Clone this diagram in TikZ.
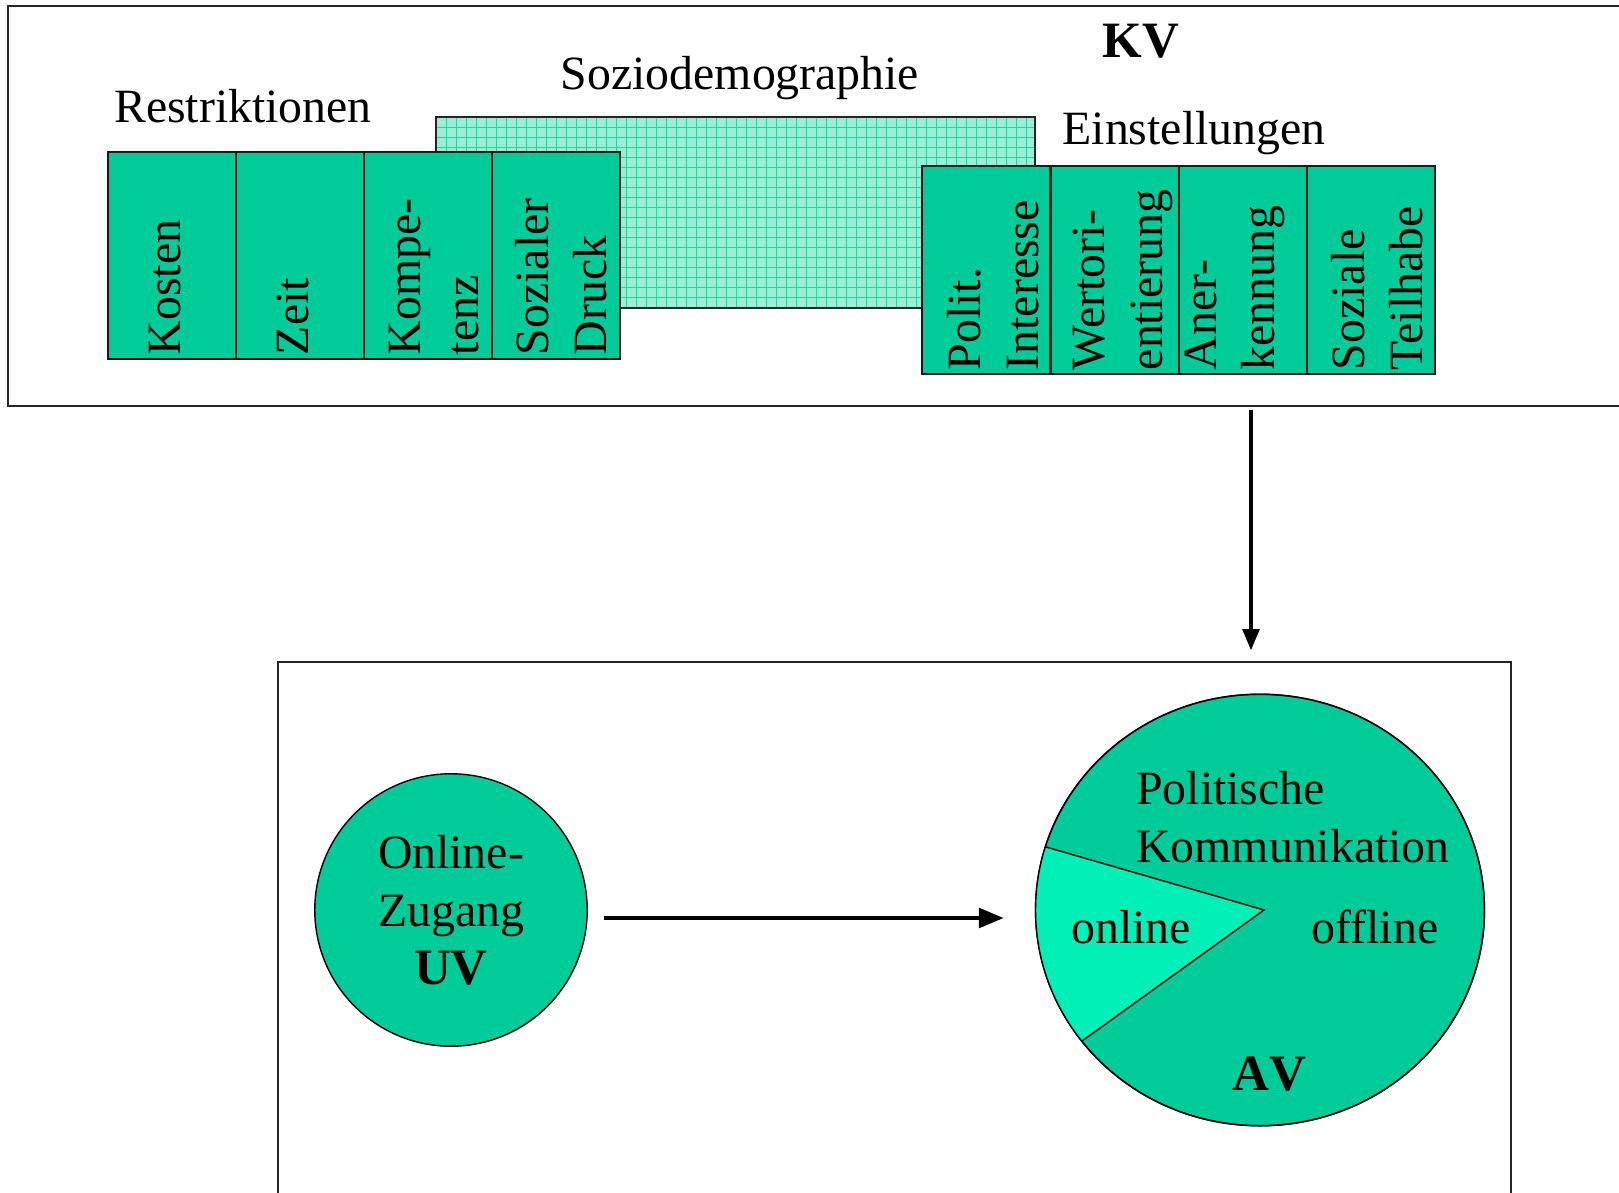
\documentclass[tikz,border=0pt]{standalone}
\usepackage{fontspec}
\setmainfont{Liberation Serif}
\usetikzlibrary{arrows,shapes.geometric,positioning}
\definecolor{kvgreen}{RGB}{0,204,153}
\definecolor{wedgegreen}{RGB}{0,240,184}
\definecolor{hatchfill}{RGB}{158,236,212}
\definecolor{hatchline}{RGB}{40,210,160}

\begin{document}
\begin{tikzpicture}[x=0.02cm,y=-0.02cm,
		font=\fontsize{27.2}{33}\selectfont,
		boldfont/.style={font=\fontsize{29}{33}\selectfont\bfseries},
		frame/.style={draw=black!85,line width=1.1pt},
		column/.style={draw=black!90,line width=1.1pt,fill=kvgreen},
		coltext/.style={rotate=90,anchor=west,align=left,inner sep=2pt},
		varnode/.style={draw,line width=0.8pt,fill=kvgreen,inner sep=0pt},
		link/.style={->,>=triangle 45,line width=2.3pt}]
		\useasboundingbox (0,0) rectangle (1619,1193);
		% KV frame
		\draw[frame] (8,6) rectangle (1650,406);
		% Soziodemographie (hatched)
		\fill[hatchfill] (436,117) rectangle (1035,308);
		\foreach \gx in {446,456,...,1030}
			\draw[hatchline,line width=0.35pt] (\gx,117) -- (\gx,308);
		\foreach \gy in {127,137,...,300}
			\draw[hatchline,line width=0.35pt] (436,\gy) -- (1035,\gy);
		\draw[frame] (436,117) rectangle (1035,308);
		% Restriktionen
		\foreach \x/\dx/\txt in {108/57/Kosten,236/57/Zeit,364/70/{Kompe-\\tenz},492/69/{Sozialer\\Druck}}{
				\draw[column] (\x,152) rectangle +(128,207);
				\node[coltext] (r\x) at (\x+\dx,359) {\txt};
		}
		% Einstellungen
		\foreach \x/\dx/\txt in {922/71/{Polit.\\Interesse},1051/72/{Wertori-\\entierung},1179/56/{Aner-\\kennung},1307/70/{Soziale\\Teilhabe}}{
				\draw[column] (\x,166) rectangle +(128,208);
				\node[coltext] (e\x) at (\x+\dx,374) {\txt};
		}
		\node (restr) at (243,106) {Restriktionen};
		\node (sozio) at (740,78) {Soziodemographie};
		\node[boldfont] (kv) at (1141,41) {KV};
		\node (einst) at (1194,133) {Einstellungen};
		% lower frame
		\draw[frame] (278,662) rectangle (1511,1240);
		\node[varnode,circle,minimum size=5.45cm,align=center] (uv) at (451,910) {Online-\\Zugang\\{\fontsize{29}{33}\selectfont\bfseries UV}};
		\node[varnode,ellipse,minimum width=8.98cm,minimum height=8.63cm] (av) at (1260,910) {};
		\coordinate (apex) at (1264,910);
		\begin{scope}
			\clip (1260,910) ellipse [x radius=224.5,y radius=215.8];
			\fill[wedgegreen] (apex) -- (937,815) -- (880,910) -- (991,1107) -- cycle;
		\end{scope}
		\draw[line width=0.8pt] (1046,847) -- (apex) -- (1082,1041);
		\draw[line width=0.8pt] (1260,910) ellipse [x radius=224.5,y radius=215.8];
		\node[align=left,anchor=west,inner sep=0pt] (polkom) at (1136,817) {Politische\\Kommunikation};
		\node (online) at (1131,927) {online};
		\node (offline) at (1375,927) {offline};
		\node[boldfont] (avlabel) at (1269,1074) {A\kern0pt V};
		% arrows
		\coordinate (kvout) at (1251,410);
		\coordinate (avin) at (1251,650);
		\draw[link,line width=1.8pt] (kvout) -- (avin);
		\draw[link,shorten <=0.33cm,shorten >=0.63cm] ([yshift=-0.16cm]uv.east) -- ([yshift=-0.16cm]av.west);
\end{tikzpicture}
\end{document}
